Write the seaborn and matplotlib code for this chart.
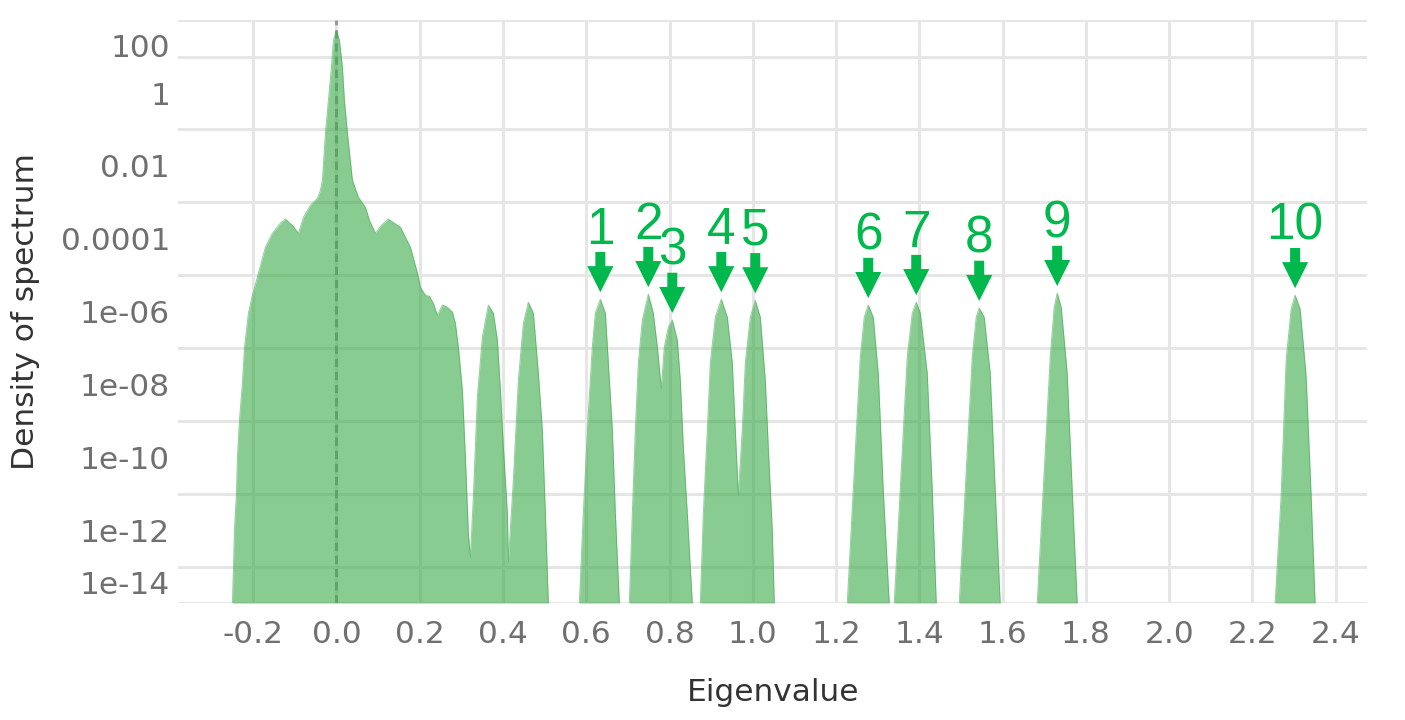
import numpy as np
import matplotlib
matplotlib.use('Agg')
from matplotlib import pyplot as plt
import seaborn as sns

# spectrum density: eigenvalue and log10(density) per connected piece
bulk_x = [-0.2497, -0.2473, -0.2449, -0.2401, -0.2377, -0.2329, -0.2257, -0.2209, -0.2113, -0.2017,
          -0.1897, -0.1705, -0.1537, -0.1345, -0.1224, -0.1056, -0.0912, -0.0792, -0.0624, -0.0456,
          -0.0384, -0.0336, -0.0264, -0.0192, -0.0120, -0.0072, 0.0, 0.0072, 0.0144, 0.0192,
          0.0264, 0.0384, 0.0528, 0.0696, 0.0792, 0.0936, 0.1080, 0.1248, 0.1537, 0.1777,
          0.1945, 0.2017, 0.2137, 0.2233, 0.2329, 0.2425, 0.2545, 0.2665, 0.2785, 0.2857,
          0.2929, 0.3025, 0.3097, 0.3169, 0.3217, 0.3289, 0.3385, 0.3505, 0.3649, 0.3769,
          0.3866, 0.3938, 0.4010, 0.4106, 0.4130, 0.4250, 0.4370, 0.4490, 0.4610, 0.4730,
          0.4850, 0.4946, 0.5018, 0.5090]
bulk_logd = [-14.0, -13.01, -12.0, -10.98, -9.99, -8.98, -7.96, -7.0, -6.04, -5.55,
             -5.05, -4.23, -3.85, -3.57, -3.46, -3.63, -3.85, -3.41, -3.08, -2.89,
             -2.67, -2.39, -1.10, -0.20, 0.71, 1.45, 1.72, 1.45, 0.71, -0.20,
             -1.10, -2.39, -2.86, -3.13, -3.49, -3.85, -3.63, -3.46, -3.68, -4.23,
             -4.94, -5.33, -5.55, -5.58, -5.77, -6.10, -5.82, -5.88, -6.01, -6.32,
             -6.97, -8.15, -9.99, -12.08, -12.74, -11.09, -8.35, -6.70, -5.82, -6.04,
             -6.78, -8.15, -9.72, -11.53, -12.87, -10.62, -7.88, -6.32, -5.74, -6.04,
             -7.69, -9.25, -11.53, -14.0]

peak1_x = [0.5834, 0.5930, 0.6050, 0.6146, 0.6218, 0.6339, 0.6459, 0.6531, 0.6627, 0.6699, 0.6795]
peak1_logd = [-14.0, -11.53, -8.79, -6.97, -6.04, -5.66, -6.04, -7.41, -9.25, -11.53, -14.0]

peaks23_x = [0.7035, 0.7107, 0.7179, 0.7251, 0.7347, 0.7491, 0.7611, 0.7707, 0.7803, 0.7875,
             0.7971, 0.8067, 0.8187, 0.8259, 0.8331, 0.8427, 0.8547]
peaks23_logd = [-14.0, -11.53, -9.25, -7.41, -6.23, -5.52, -6.04, -6.97, -8.10, -6.97,
                -6.43, -6.23, -6.78, -7.88, -9.72, -11.53, -14.0]

peaks45_x = [0.8740, 0.8812, 0.8908, 0.8980, 0.9100, 0.9244, 0.9388, 0.9508, 0.9580, 0.9652,
             0.9748, 0.9820, 0.9940, 1.0060, 1.0180, 1.0300, 1.0372, 1.0468, 1.0516]
peaks45_logd = [-14.0, -11.53, -9.25, -7.41, -6.15, -5.66, -6.15, -7.41, -9.25, -11.04,
                -9.25, -7.41, -6.15, -5.69, -6.15, -7.88, -9.72, -12.0, -14.0]

peak6_x = [1.2269, 1.2413, 1.2581, 1.2677, 1.2773, 1.2893, 1.3013, 1.3133, 1.3277]
peak6_logd = [-14.0, -10.90, -7.25, -6.15, -5.82, -6.15, -7.69, -10.90, -14.0]
peak7_x = [1.3397, 1.3541, 1.3709, 1.3830, 1.3926, 1.4022, 1.4190, 1.4310, 1.4406]
peak7_logd = [-14.0, -10.90, -7.25, -6.04, -5.74, -6.04, -7.69, -10.90, -14.0]
peak8_x = [1.4958, 1.5102, 1.5270, 1.5366, 1.5438, 1.5558, 1.5702, 1.5822, 1.5942]
peak8_logd = [-14.0, -10.90, -7.25, -6.15, -5.90, -6.15, -7.69, -10.90, -14.0]
peak9_x = [1.6831, 1.6975, 1.7143, 1.7239, 1.7311, 1.7407, 1.7551, 1.7671, 1.7791]
peak9_logd = [-14.0, -10.90, -7.25, -5.88, -5.49, -5.88, -7.69, -10.90, -14.0]
peak10_x = [2.2545, 2.2689, 2.2809, 2.2929, 2.3025, 2.3145, 2.3289, 2.3409, 2.3505]
peak10_logd = [-14.0, -11.04, -7.33, -5.93, -5.55, -5.93, -7.77, -11.04, -14.0]

# outlier eigenvalues marked with arrows
outlier_labels = ['1', '2', '3', '4', '5', '6', '7', '8', '9', '10']
outlier_x = [0.6339, 0.7491, 0.8067, 0.9244, 1.0060, 1.2773, 1.3926, 1.5438, 1.7311, 2.3025]

# y axis: label text and where it sits on the log10 grid
ytick_labels = ['100', '1', '0.01', '0.0001', '1e-06', '1e-08', '1e-10', '1e-12', '1e-14']
ytick_pos = [1.31, 0, -2, -4, -6, -8, -10, -12, -13.45]

pieces = [(bulk_x, bulk_logd), (peak1_x, peak1_logd), (peaks23_x, peaks23_logd),
          (peaks45_x, peaks45_logd), (peak6_x, peak6_logd), (peak7_x, peak7_logd),
          (peak8_x, peak8_logd), (peak9_x, peak9_logd), (peak10_x, peak10_logd)]

fill_green = '#39AA49'
arrow_green = '#00B84C'
y_bottom, y_top = -14, 2

sns.set_theme(style='whitegrid', rc={'grid.color': '#e6e6e6', 'grid.linewidth': 2.2,
                                     'axes.unicode_minus': False})
plt.rcParams['font.family'] = ['DejaVu Sans']

fig = plt.figure(figsize=(14.05, 7.2), dpi=100)
fig.subplots_adjust(left=0.127, right=0.973, bottom=0.1625, top=0.972)
ax = fig.add_subplot(111)

ax.axvline(0, color='#9a9a9a', ls=(0, (2.7, 1.6)), lw=2.2, zorder=1.5)

for px, py in pieces:
    ax.fill_between(px, py, y_bottom, color=fill_green, alpha=0.6, lw=0, zorder=2)
    sns.lineplot(x=px, y=py, ax=ax, sort=False, color=fill_green, alpha=0.55, lw=0.7, zorder=2.1)

all_x = np.concatenate([p[0] for p in pieces])
all_y = np.concatenate([p[1] for p in pieces])
for lab, xv in zip(outlier_labels, outlier_x):
    yv = np.interp(xv, all_x, all_y)
    ax.annotate('', xy=(xv, yv), xytext=(0, 34), textcoords='offset points',
                arrowprops=dict(arrowstyle='simple,head_length=0.94,head_width=0.94,tail_width=0.36',
                                mutation_scale=20, color=arrow_green, lw=0, shrinkA=0, shrinkB=5))
    ax.annotate(lab, xy=(xv, yv), xytext=(0, 40), textcoords='offset points',
                ha='center', va='baseline', fontsize=37, color=arrow_green,
                family=['Liberation Sans', 'DejaVu Sans'])

ax.set_xlim(-0.3794, 2.4753)
ax.set_ylim(y_bottom, y_top)
xt = np.round(np.arange(-0.2, 2.41, 0.2), 1)
ax.set_xticks(xt, ['{:.1f}'.format(v) for v in xt])
ax.set_yticks(ytick_pos, ytick_labels)
ax.set_yticks(np.arange(y_bottom, y_top + 1), minor=True)
ax.grid(False, axis='y', which='major')
ax.grid(True, axis='y', which='minor', color='#e6e6e6', lw=2.2)
ax.grid(True, axis='x', which='major', color='#e6e6e6', lw=2.2)
ax.set_axisbelow(True)
for s in ax.spines.values():
    s.set_visible(False)

ax.tick_params(axis='both', which='both', length=0, labelsize=22.5, labelcolor='#707070')
ax.tick_params(axis='x', pad=12)
ax.tick_params(axis='y', pad=6)
ax.set_xlabel('Eigenvalue', fontsize=22.5, color='#333333', labelpad=21)
ax.set_ylabel('Density of spectrum', fontsize=22.5, color='#333333', labelpad=15)

plt.savefig('out.png', dpi=100)
plt.close()
